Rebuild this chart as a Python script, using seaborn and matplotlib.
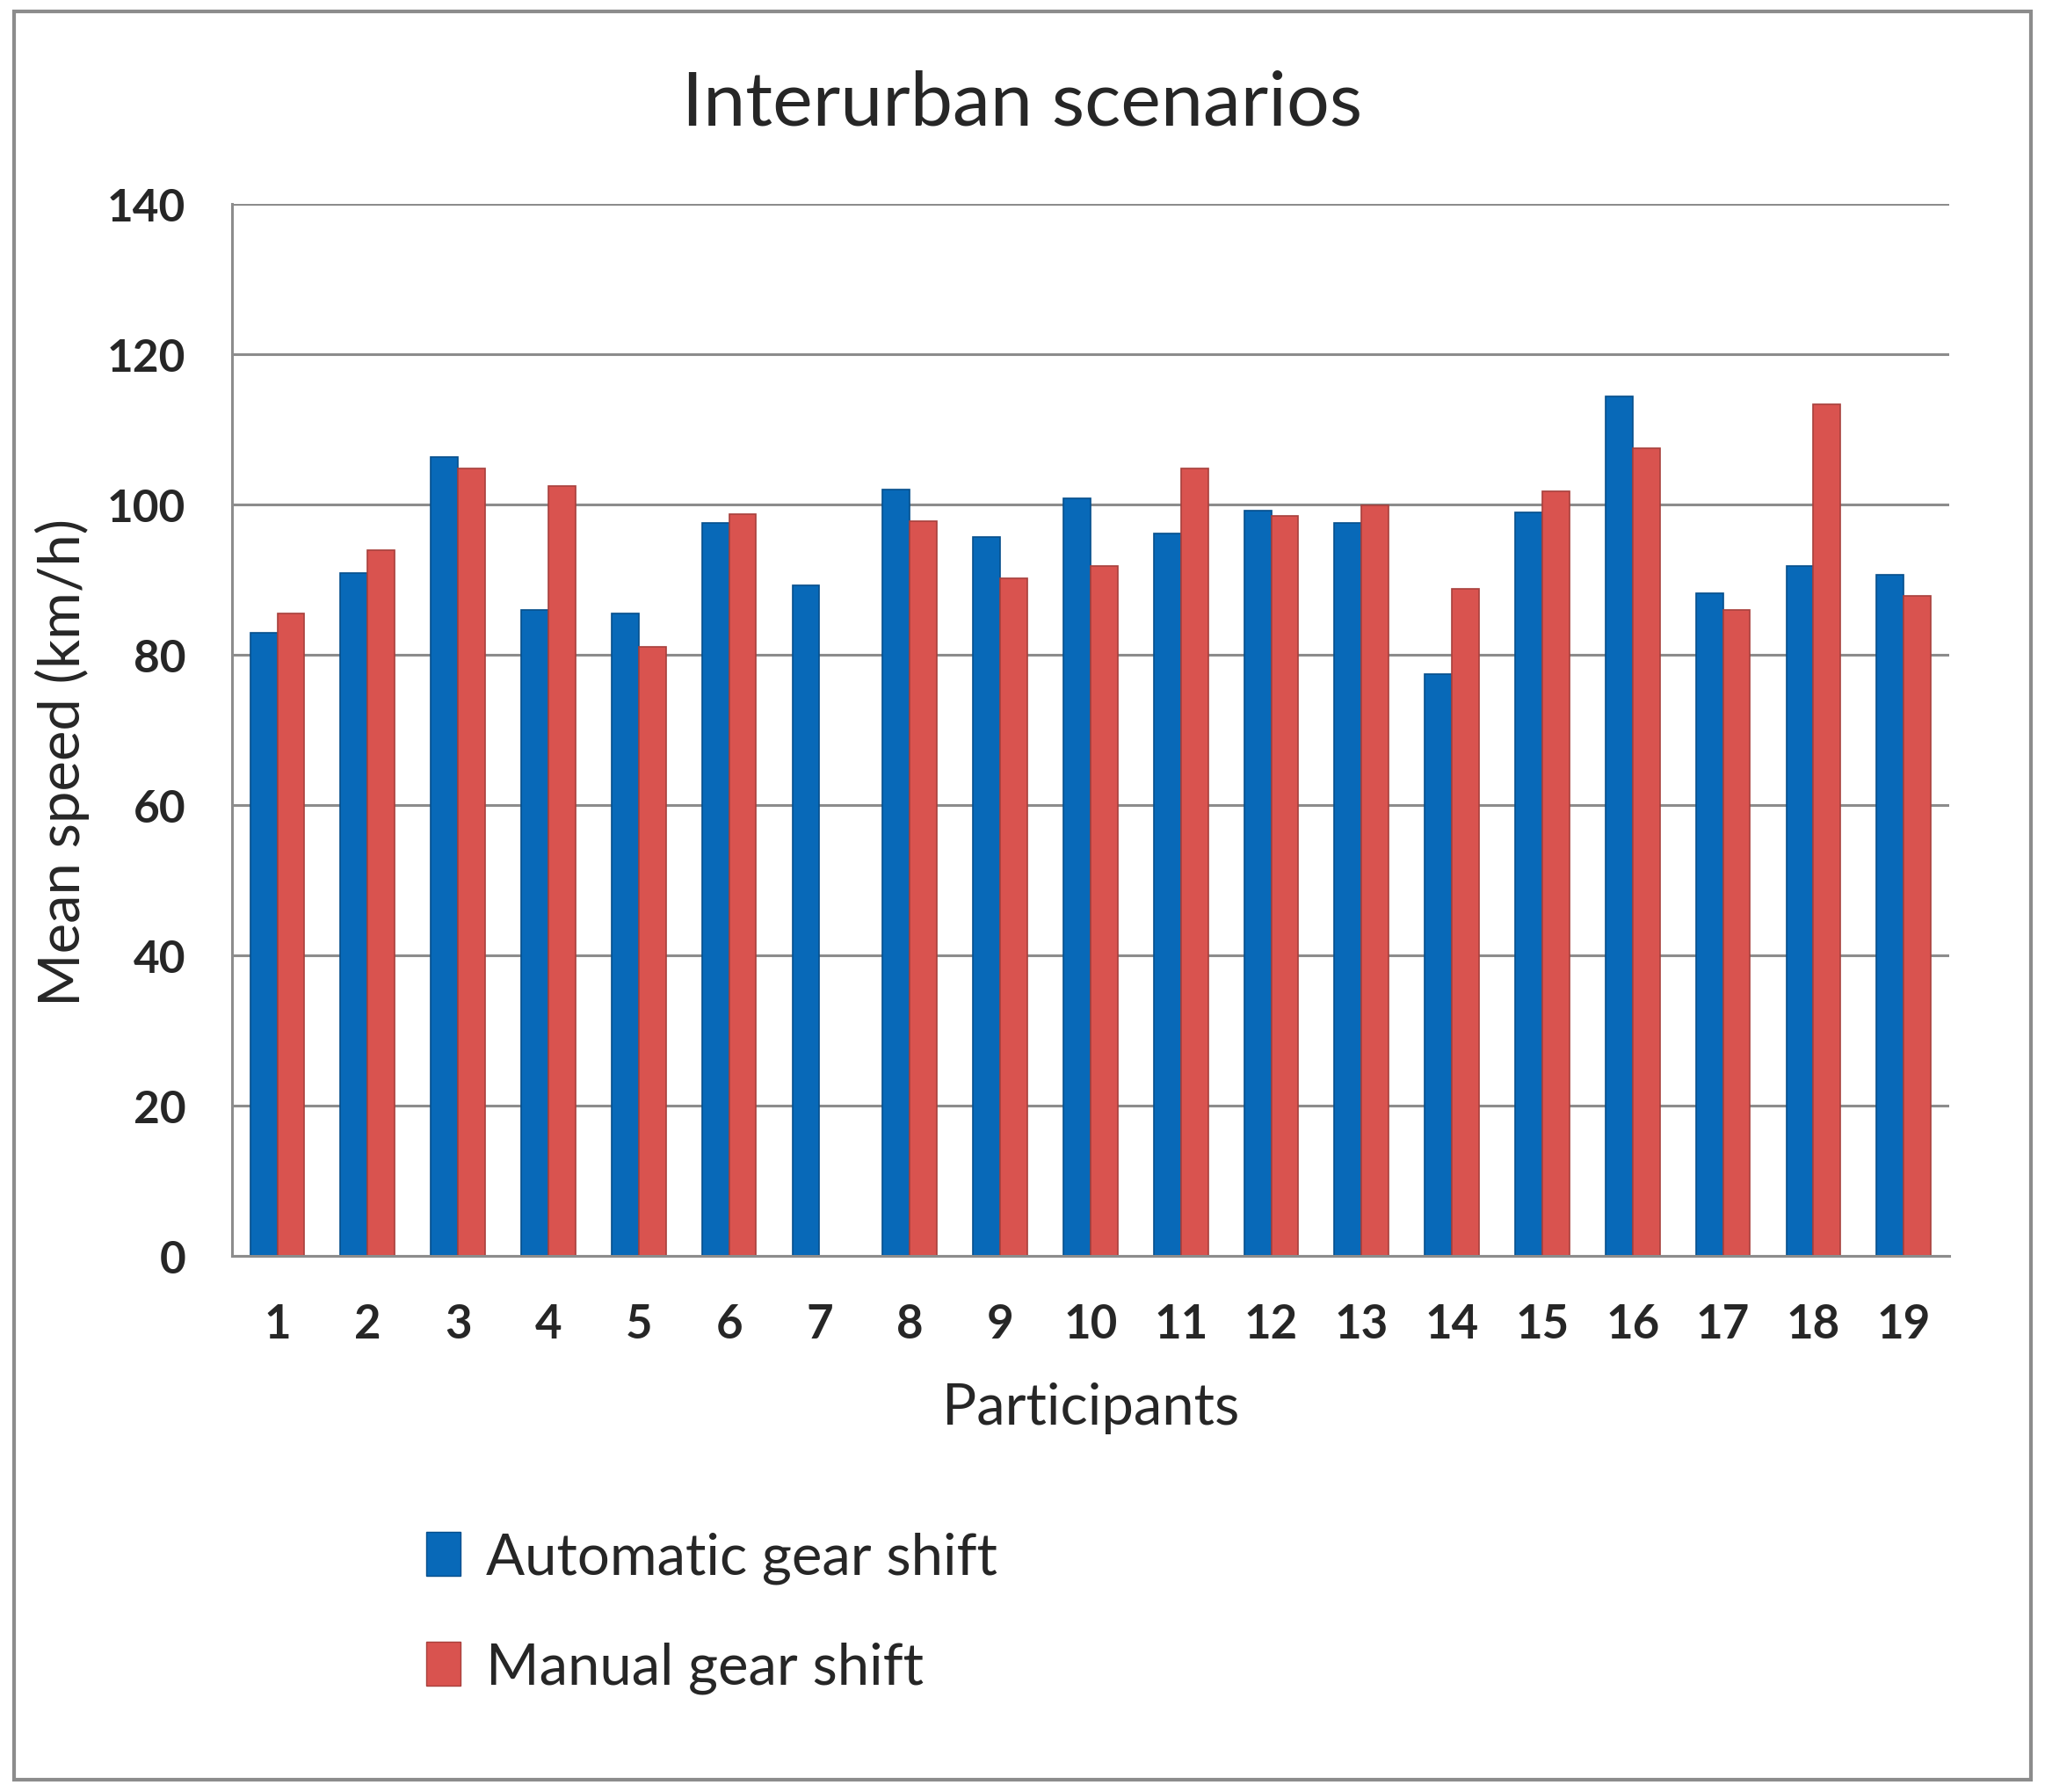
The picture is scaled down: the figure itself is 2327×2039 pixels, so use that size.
import numpy as np
import pandas as pd
import matplotlib
matplotlib.use("Agg")
import matplotlib.pyplot as plt
from matplotlib.patches import Rectangle
import seaborn as sns

# values
participants = [str(i) for i in range(1, 20)]
automatic = [82.9, 90.9, 106.3, 85.9, 85.5, 97.5, 89.2, 102.0, 95.6, 100.8,
             96.1, 99.1, 97.5, 77.4, 98.9, 114.3, 88.1, 91.8, 90.6]
manual = [85.5, 93.9, 104.8, 102.4, 81.0, 98.7, np.nan, 97.8, 90.2, 91.8,
          104.8, 98.5, 99.8, 88.7, 101.7, 107.4, 85.9, 113.3, 87.8]
series_names = ["Automatic gear shift", "Manual gear shift"]
y_ticks = [0, 20, 40, 60, 80, 100, 120, 140]

df = pd.DataFrame({
    "Participant": participants * 2,
    "Speed": automatic + manual,
    "Mode": [series_names[0]] * len(participants) + [series_names[1]] * len(participants),
})

sns.set_theme(style="white")
plt.rcParams["font.family"] = ["Lato", "DejaVu Sans"]

palette = {series_names[0]: "#0869B8", series_names[1]: "#D9534F"}
edges = {series_names[0]: "#064F8C", series_names[1]: "#A8403C"}

fig = plt.figure(figsize=(23.27, 20.40), dpi=100)
ax = fig.add_axes([0.1135, 0.299, 0.8395, 0.587])

sns.barplot(data=df, x="Participant", y="Speed", hue="Mode", order=participants,
            hue_order=series_names, palette=palette, width=0.6, saturation=1,
            ax=ax, legend=False)

modes = [series_names[0]] * len(participants) + [series_names[1]] * len(participants)
for bar, mode in zip(ax.patches, modes):
    bar.set_edgecolor(edges[mode])
    bar.set_linewidth(1.2)

ax.set_ylim(0, 140)
ax.set_yticks(y_ticks)
ax.set_yticklabels([str(t) for t in y_ticks], fontsize=37, fontweight="bold")
ax.set_xticks(range(len(participants)))
ax.set_xticklabels(participants, fontsize=38, fontweight="bold")
ax.set_xlim(-0.5, len(participants) - 0.5)
ax.tick_params(axis="y", pad=38, length=0)
ax.tick_params(axis="x", pad=38, length=0)
ax.yaxis.grid(True, color="#8C8C8C", linewidth=2.2)
ax.set_axisbelow(True)
for side in ["top", "right"]:
    ax.spines[side].set_visible(False)
for side in ["left", "bottom"]:
    ax.spines[side].set_color("#8C8C8C")
    ax.spines[side].set_linewidth(2.2)

ax.set_xlabel("Participants", fontsize=47, labelpad=30)
ax.set_ylabel("Mean speed (km/h)", fontsize=47)
ax.yaxis.set_label_coords(-0.083, 0.47)

fig.text(0.5, 0.942, "Interurban scenarios", ha="center", va="center", fontsize=62)

# legend under the chart
handles = [Rectangle((0, 0), 1, 1, facecolor=palette[n], edgecolor=edges[n])
           for n in series_names]
fig.legend(handles, series_names, loc="upper left", bbox_to_anchor=(0.183, 0.174),
           frameon=False, fontsize=47, handlelength=0.6, handleheight=0.8,
           handletextpad=0.45, labelspacing=1.0)

# grey frame round the whole chart
fig.patches.append(Rectangle((0.007, 0.007), 0.986, 0.986, transform=fig.transFigure,
                             fill=False, edgecolor="#8C8C8C", linewidth=3))

fig.savefig("out.png", dpi=100)
